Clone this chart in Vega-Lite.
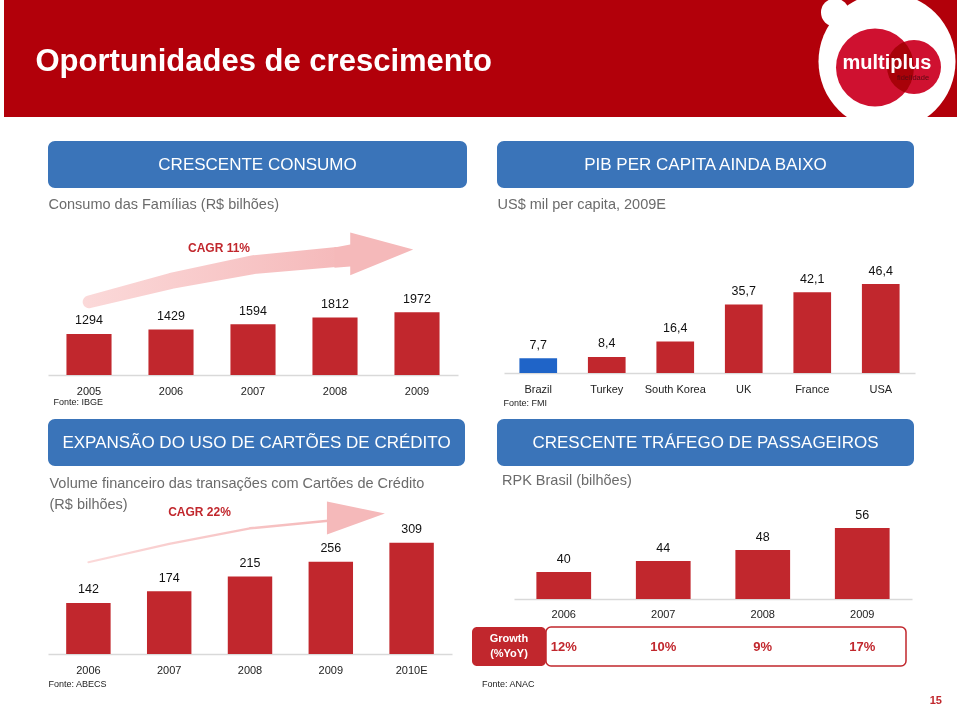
{
 "$schema": "https://vega.github.io/schema/vega-lite/v6.json",
 "padding": 0,
 "background": "#ffffff",
 "datasets": {
  "rpk": [
   {"year": "2006", "value": 40, "growth": 0.12},
   {"year": "2007", "value": 44, "growth": 0.10},
   {"year": "2008", "value": 48, "growth": 0.09},
   {"year": "2009", "value": 56, "growth": 0.17}
  ]
 },
 "config": {
  "font": "Liberation Sans",
  "view": {"stroke": null},
  "locale": {"number": {"decimal": ",", "thousands": ".", "grouping": [3], "currency": ["R$ ", ""]}},
  "axisY": {"disable": true},
  "legend": {"disable": true},
  "axisX": {
   "domainColor": "#d9d9d9", "domainWidth": 1.5, "ticks": false, "tickSize": 0, "grid": false,
   "labelFontSize": 11, "labelColor": "#222222", "labelAngle": 0, "labelBaseline": "alphabetic", "labelPadding": 19,
   "titleFontSize": 9, "titleFontWeight": "normal", "titleColor": "#222222", "titleAlign": "left", "titleBaseline": "alphabetic", "titleAnchor": "start"
  }
 },
 "bounds": "full",
 "spacing": 24,
 "vconcat": [
  {
   "bounds": "flush",
   "spacing": 0,
   "hconcat": [
    {"width": 4, "height": 117, "data": {"values": []}, "mark": "point"},
    {
     "width": 813, "height": 117,
     "view": {"fill": "#b2000a", "stroke": null},
     "data": {"values": []}, "mark": "point",
     "title": {"text": "Oportunidades de crescimento", "orient": "top", "anchor": "start", "frame": "group", "offset": -102, "baseline": "alphabetic", "dx": 31.5, "color": "#ffffff", "fontSize": 31, "fontWeight": "bold"}
    },
    {
     "width": 140, "height": 117,
     "view": {"fill": "#b2000a", "stroke": null},
     "data": {"values": [{}]},
     "layer": [
      {"mark": {"type": "point", "shape": "circle", "filled": true, "color": "#ffffff", "opacity": 1, "size": 18769, "strokeWidth": 0, "clip": true, "yOffset": 3}, "encoding": {}},
      {"mark": {"type": "point", "shape": "circle", "filled": true, "color": "#ffffff", "opacity": 1, "size": 784, "strokeWidth": 0, "clip": true, "xOffset": -52, "yOffset": -46}, "encoding": {}},
      {"mark": {"type": "point", "shape": "circle", "filled": true, "color": "#cf1130", "opacity": 1, "size": 6084, "strokeWidth": 0, "xOffset": -12, "yOffset": 9}, "encoding": {}},
      {"mark": {"type": "point", "shape": "circle", "filled": true, "color": "#cf1130", "opacity": 1, "size": 2916, "strokeWidth": 0, "xOffset": 27, "yOffset": 8.5, "blend": "multiply"}, "encoding": {}},
      {"mark": {"type": "text", "text": "multiplus", "color": "#ffffff", "fontSize": 20, "fontWeight": "bold", "baseline": "alphabetic", "dy": 10.5}, "encoding": {}},
      {"mark": {"type": "text", "text": "fidelidade", "color": "#5a0a12", "fontSize": 7.5, "baseline": "alphabetic", "dx": 26, "dy": 21.5}, "encoding": {}}
     ]
    }
   ]
  },
  {
   "bounds": "full",
   "spacing": 0,
   "hconcat": [
    {"width": 48, "height": 1, "data": {"values": []}, "mark": "point"},
    {
     "bounds": "flush",
     "spacing": 44,
     "vconcat": [
      {
       "width": 419, "height": 47,
       "view": {"fill": "#3a74b9", "stroke": null, "cornerRadius": 7},
       "title": {"text": "Consumo das Famílias (R$ bilhões)", "orient": "bottom", "anchor": "start", "frame": "group", "offset": 21, "baseline": "alphabetic", "dx": 0.5, "fontSize": 14.5, "fontWeight": "normal", "color": "#6b6b6b"},
       "data": {"values": [{"label": "CRESCENTE CONSUMO"}]},
       "mark": {"type": "text", "color": "#ffffff", "fontSize": 17, "baseline": "middle"},
       "encoding": {"text": {"field": "label", "type": "nominal"}}
      },
      {
       "width": 410, "height": 143,
       "data": {"values": [
        {"year": "2005", "value": 1294},
        {"year": "2006", "value": 1429},
        {"year": "2007", "value": 1594},
        {"year": "2008", "value": 1812},
        {"year": "2009", "value": 1972}
       ]},
       "layer": [
        {
         "mark": {"type": "bar", "color": "#c1272d"},
         "encoding": {
          "x": {"field": "year", "type": "nominal", "scale": {"domain": ["2005", "2006", "2007", "2008", "2009"], "paddingInner": 0.45, "paddingOuter": 0.225}, "axis": {"title": "Fonte: IBGE", "titleX": 5, "titleY": 29.5}},
          "y": {"field": "value", "type": "quantitative", "scale": {"domain": [0, 4200]}}
         }
        },
        {
         "data": {"values": [
          {"year": "2005", "level": 2300},
          {"year": "2006", "level": 2960},
          {"year": "2007", "level": 3470},
          {"year": "2008", "level": 3710}
         ]},
         "mark": {"type": "trail", "stroke": null,
          "color": {"gradient": "linear", "x1": 0, "y1": 0, "x2": 1, "y2": 0, "stops": [{"offset": 0, "color": "#fbd9d9"}, {"offset": 1, "color": "#f5b9ba"}]},
          "fill": {"gradient": "linear", "x1": 0, "y1": 0, "x2": 1, "y2": 0, "stops": [{"offset": 0, "color": "#fbd9d9"}, {"offset": 1, "color": "#f5b9ba"}]}},
         "encoding": {
          "x": {"field": "year", "type": "nominal"},
          "y": {"field": "level", "type": "quantitative"},
          "size": {"field": "level", "type": "quantitative", "scale": {"range": [2, 20], "zero": false}, "legend": null}
         }
        },
        {
         "data": {"values": [{}]},
         "mark": {"type": "point", "shape": "M -0.06 0 L -1.06 -0.27 L -1.06 -0.08 L -1.31 -0.03 L -1.31 0.29 L -1.06 0.27 L -1.06 0.41 Z", "size": 15876, "filled": true, "color": "#f5b9ba", "opacity": 1, "strokeWidth": 0},
         "encoding": {"x": {"datum": "2009", "type": "nominal"}, "y": {"datum": 3950, "type": "quantitative"}}
        },
        {
         "mark": {"type": "text", "baseline": "alphabetic", "dy": -9.5, "fontSize": 12.5, "color": "#111111"},
         "encoding": {
          "x": {"field": "year", "type": "nominal"},
          "y": {"field": "value", "type": "quantitative"},
          "text": {"field": "value", "type": "quantitative", "format": "d"}
         }
        },
        {
         "data": {"values": [{"label": "CAGR 11%"}]},
         "mark": {"type": "text", "align": "left", "baseline": "alphabetic", "dx": 17, "fontSize": 12, "fontWeight": "bold", "color": "#c1272d"},
         "encoding": {"x": {"datum": "2006", "type": "nominal"}, "y": {"datum": 3860, "type": "quantitative"}, "text": {"field": "label", "type": "nominal"}}
        }
       ]
      },
      {
       "width": 417, "height": 47,
       "view": {"fill": "#3a74b9", "stroke": null, "cornerRadius": 7},
       "title": {"text": ["Volume financeiro das transações com Cartões de Crédito", "(R$ bilhões)"], "orient": "bottom", "anchor": "start", "frame": "group", "offset": 22, "baseline": "alphabetic", "lineHeight": 21, "dx": 1.5, "fontSize": 14.5, "fontWeight": "normal", "color": "#6b6b6b"},
       "data": {"values": [{"label": "EXPANSÃO DO USO DE CARTÕES DE CRÉDITO"}]},
       "mark": {"type": "text", "color": "#ffffff", "fontSize": 17, "baseline": "middle"},
       "encoding": {"text": {"field": "label", "type": "nominal"}}
      },
      {
       "width": 404, "height": 144,
       "data": {"values": [
        {"year": "2006", "value": 142},
        {"year": "2007", "value": 174},
        {"year": "2008", "value": 215},
        {"year": "2009", "value": 256},
        {"year": "2010E", "value": 309}
       ]},
       "layer": [
        {
         "mark": {"type": "bar", "color": "#c1272d"},
         "encoding": {
          "x": {"field": "year", "type": "nominal", "scale": {"domain": ["2006", "2007", "2008", "2009", "2010E"], "paddingInner": 0.45, "paddingOuter": 0.225}, "axis": {"title": "Fonte: ABECS", "titleX": 0, "titleY": 32.5}},
          "y": {"field": "value", "type": "quantitative", "scale": {"domain": [0, 387]}}
         }
        },
        {
         "data": {"values": [
          {"year": "2006", "level": 255},
          {"year": "2007", "level": 306},
          {"year": "2008", "level": 349},
          {"year": "2009", "level": 371}
         ]},
         "mark": {"type": "trail", "stroke": null,
          "color": {"gradient": "linear", "x1": 0, "y1": 0, "x2": 1, "y2": 0, "stops": [{"offset": 0, "color": "#fbd9d9"}, {"offset": 1, "color": "#f5b9ba"}]},
          "fill": {"gradient": "linear", "x1": 0, "y1": 0, "x2": 1, "y2": 0, "stops": [{"offset": 0, "color": "#fbd9d9"}, {"offset": 1, "color": "#f5b9ba"}]}},
         "encoding": {
          "x": {"field": "year", "type": "nominal"},
          "y": {"field": "level", "type": "quantitative"},
          "size": {"field": "level", "type": "quantitative", "scale": {"range": [2, 15], "zero": false}, "legend": null}
         }
        },
        {
         "data": {"values": [{}]},
         "mark": {"type": "point", "shape": "M -0.46 0 L -1.46 -0.21 L -1.46 0.36 Z", "size": 13456, "filled": true, "color": "#f5b9ba", "opacity": 1, "strokeWidth": 0},
         "encoding": {"x": {"datum": "2010E", "type": "nominal"}, "y": {"datum": 390, "type": "quantitative"}}
        },
        {
         "mark": {"type": "text", "baseline": "alphabetic", "dy": -9.5, "fontSize": 12.5, "color": "#111111"},
         "encoding": {
          "x": {"field": "year", "type": "nominal"},
          "y": {"field": "value", "type": "quantitative"},
          "text": {"field": "value", "type": "quantitative", "format": "d"}
         }
        },
        {
         "data": {"values": [{"label": "CAGR 22%"}]},
         "mark": {"type": "text", "align": "left", "baseline": "alphabetic", "dx": -1, "fontSize": 12, "fontWeight": "bold", "color": "#c1272d"},
         "encoding": {"x": {"datum": "2007", "type": "nominal"}, "y": {"datum": 383, "type": "quantitative"}, "text": {"field": "label", "type": "nominal"}}
        }
       ]
      }
     ]
    },
    {"width": 5, "height": 1, "data": {"values": []}, "mark": "point"},
    {
     "bounds": "full",
     "spacing": 0,
     "vconcat": [
      {
       "bounds": "flush",
       "spacing": 0,
       "hconcat": [
        {"width": 25, "height": 93, "data": {"values": []}, "mark": "point"},
        {
         "width": 417, "height": 47,
         "view": {"fill": "#3a74b9", "stroke": null, "cornerRadius": 7},
         "title": {"text": "US$ mil per capita, 2009E", "orient": "bottom", "anchor": "start", "frame": "group", "offset": 21, "baseline": "alphabetic", "dx": 0.5, "fontSize": 14.5, "fontWeight": "normal", "color": "#6b6b6b"},
         "data": {"values": [{"label": "PIB PER CAPITA AINDA BAIXO"}]},
         "mark": {"type": "text", "color": "#ffffff", "fontSize": 17, "baseline": "middle"},
         "encoding": {"text": {"field": "label", "type": "nominal"}}
        }
       ]
      },
      {
       "bounds": "flush",
       "spacing": 0,
       "hconcat": [
        {"width": 32, "height": 185, "data": {"values": []}, "mark": "point"},
        {
         "width": 411, "height": 139,
         "data": {"values": [
          {"country": "Brazil", "value": 7.7},
          {"country": "Turkey", "value": 8.4},
          {"country": "South Korea", "value": 16.4},
          {"country": "UK", "value": 35.7},
          {"country": "France", "value": 42.1},
          {"country": "USA", "value": 46.4}
         ]},
         "encoding": {
          "x": {"field": "country", "type": "nominal", "scale": {"domain": ["Brazil", "Turkey", "South Korea", "UK", "France", "USA"], "paddingInner": 0.45, "paddingOuter": 0.225}, "axis": {"title": "Fonte: FMI", "titleX": -1, "titleY": 32.5}},
          "y": {"field": "value", "type": "quantitative", "scale": {"domain": [0, 72.5]}}
         },
         "layer": [
          {"mark": {"type": "bar"}, "encoding": {"color": {"condition": {"test": "datum.country === 'Brazil'", "value": "#1f64c8"}, "value": "#c1272d"}}},
          {"mark": {"type": "text", "baseline": "alphabetic", "dy": -9.5, "fontSize": 12.5, "color": "#111111"}, "encoding": {"text": {"field": "value", "type": "quantitative", "format": ".1f"}}}
         ]
        }
       ]
      },
      {
       "bounds": "flush",
       "spacing": 0,
       "hconcat": [
        {"width": 25, "height": 74, "data": {"values": []}, "mark": "point"},
        {
         "width": 417, "height": 47,
         "view": {"fill": "#3a74b9", "stroke": null, "cornerRadius": 7},
         "title": {"text": "RPK Brasil (bilhões)", "orient": "bottom", "anchor": "start", "frame": "group", "offset": 19, "baseline": "alphabetic", "dx": 5, "fontSize": 14.5, "fontWeight": "normal", "color": "#6b6b6b"},
         "data": {"values": [{"label": "CRESCENTE TRÁFEGO DE PASSAGEIROS"}]},
         "mark": {"type": "text", "color": "#ffffff", "fontSize": 17, "baseline": "middle"},
         "encoding": {"text": {"field": "label", "type": "nominal"}}
        }
       ]
      },
      {
       "bounds": "flush",
       "spacing": 0,
       "hconcat": [
        {"width": 42, "height": 133, "data": {"values": []}, "mark": "point"},
        {
         "width": 398, "height": 106,
         "data": {"name": "rpk"},
         "encoding": {
          "x": {"field": "year", "type": "nominal", "scale": {"domain": ["2006", "2007", "2008", "2009"], "paddingInner": 0.45, "paddingOuter": 0.225}, "axis": {"title": null, "labelPadding": 18}},
          "y": {"field": "value", "type": "quantitative", "scale": {"domain": [30.2, 68.75], "zero": false, "clamp": true}}
         },
         "layer": [
          {"mark": {"type": "bar", "color": "#c1272d"}},
          {"mark": {"type": "text", "baseline": "alphabetic", "dy": -9.5, "fontSize": 12.5, "color": "#111111"}, "encoding": {"text": {"field": "value", "type": "quantitative", "format": "d"}}}
         ]
        }
       ]
      },
      {
       "bounds": "flush",
       "spacing": 0,
       "hconcat": [
        {
         "width": 74, "height": 39,
         "view": {"fill": "#c1272d", "stroke": null, "cornerRadius": 5},
         "title": {"text": "Fonte: ANAC", "orient": "bottom", "anchor": "start", "frame": "group", "offset": 21, "baseline": "alphabetic", "dx": 10, "fontSize": 9, "fontWeight": "normal", "color": "#222222"},
         "data": {"values": [{"label": "Growth\n(%YoY)"}]},
         "mark": {"type": "text", "color": "#ffffff", "fontSize": 11, "fontWeight": "bold", "baseline": "middle", "dy": -7.5, "lineBreak": "\n", "lineHeight": 15},
         "encoding": {"text": {"field": "label", "type": "nominal"}}
        },
        {
         "width": 360, "height": 39,
         "view": {"fill": "#ffffff", "stroke": "#c1272d", "strokeWidth": 1.5, "cornerRadius": 5},
         "title": {"text": "15", "orient": "bottom", "anchor": "end", "frame": "group", "offset": 38, "baseline": "alphabetic", "dx": 36, "fontSize": 11, "fontWeight": "bold", "color": "#c1272d"},
         "data": {"name": "rpk"},
         "mark": {"type": "text", "fontSize": 13, "fontWeight": "bold", "color": "#c1272d", "baseline": "middle"},
         "encoding": {
          "x": {"field": "year", "type": "nominal", "scale": {"domain": ["2006", "2007", "2008", "2009"], "range": [-32, 366], "paddingInner": 0.45, "paddingOuter": 0.225}, "axis": null},
          "text": {"field": "growth", "type": "quantitative", "format": ".0%"}
         }
        }
       ]
      }
     ]
    }
   ]
  }
 ]
}
